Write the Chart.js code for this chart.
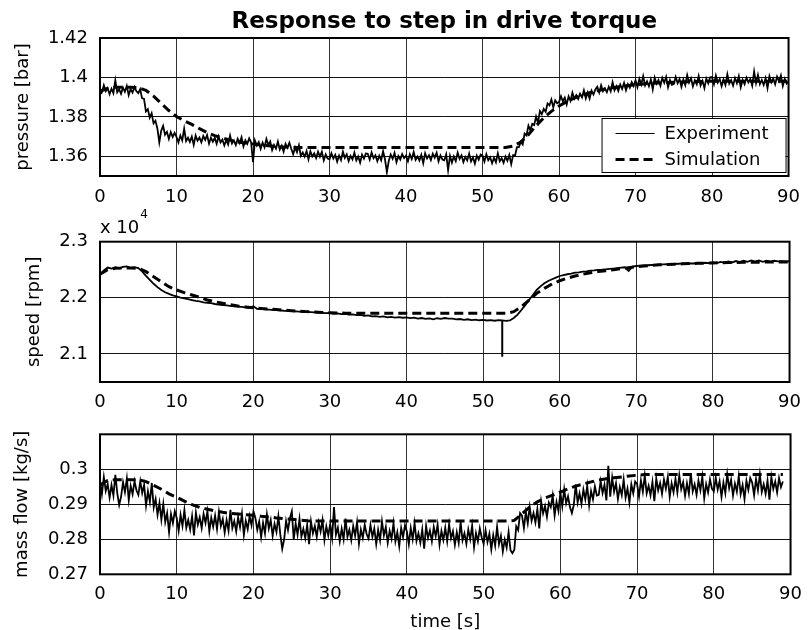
<!DOCTYPE html>
<html>
<head>
<meta charset="utf-8">
<title>Response to step in drive torque</title>
<script src="https://cdn.jsdelivr.net/npm/chart.js@4.4.0/dist/chart.umd.min.js"></script>
<style>
    html, body { margin: 0; padding: 0; background: #fff; overflow: hidden; }
    #wrap { position: relative; width: 811px; height: 630px; }
    canvas { position: absolute; left: 0; }
</style>
</head>
<body>
<div id="wrap">
    <canvas id="pressureChart" width="811" height="215" style="top:0px"></canvas>
    <canvas id="speedChart" width="811" height="225" style="top:195px"></canvas>
    <canvas id="flowChart" width="811" height="233" style="top:400px"></canvas>
</div>
<script>
'use strict'

// sample periods [s]: noisy signals every quarter second, speed every half, simulation every second
var pressureStep = 0.25;
var speedStep = 0.5;
var flowStep = 0.25;
var simStep = 1;

var timeTicks = [0, 10, 20, 30, 40, 50, 60, 70, 80, 90];

// pressure [bar]
var pressureTicks = [1.36, 1.38, 1.4, 1.42];
var pressureTickLabels = ['1.36', '1.38', '1.4', '1.42'];
var pressureExp = [
    1.3915, 1.3923, 1.3960, 1.3930, 1.3945, 1.3915, 1.3943, 1.3920, 1.3985, 1.3925, 1.3940, 1.3917, 1.3949, 1.3927, 1.3957, 1.3910, 1.3941, 1.3923, 1.3951, 1.3931,
    1.3920, 1.3940, 1.3894, 1.3892, 1.3828, 1.3839, 1.3796, 1.3818, 1.3767, 1.3780, 1.3741, 1.3670, 1.3729, 1.3754, 1.3709, 1.3724, 1.3688, 1.3723, 1.3698, 1.3719,
    1.3698, 1.3670, 1.3705, 1.3681, 1.3740, 1.3677, 1.3694, 1.3673, 1.3700, 1.3658, 1.3705, 1.3679, 1.3695, 1.3671, 1.3703, 1.3683, 1.3708, 1.3664, 1.3694, 1.3674,
    1.3693, 1.3663, 1.3700, 1.3670, 1.3685, 1.3655, 1.3683, 1.3660, 1.3705, 1.3665, 1.3680, 1.3657, 1.3689, 1.3667, 1.3697, 1.3650, 1.3681, 1.3663, 1.3691, 1.3671,
    1.3570, 1.3680, 1.3654, 1.3672, 1.3638, 1.3669, 1.3646, 1.3688, 1.3657, 1.3675, 1.3631, 1.3657, 1.3639, 1.3674, 1.3634, 1.3654, 1.3623, 1.3663, 1.3643, 1.3669,
    1.3638, 1.3610, 1.3645, 1.3621, 1.3656, 1.3602, 1.3619, 1.3598, 1.3627, 1.3585, 1.3625, 1.3599, 1.3615, 1.3591, 1.3623, 1.3598, 1.3623, 1.3579, 1.3609, 1.3589,
    1.3585, 1.3615, 1.3589, 1.3607, 1.3573, 1.3604, 1.3581, 1.3623, 1.3592, 1.3610, 1.3576, 1.3602, 1.3584, 1.3619, 1.3579, 1.3599, 1.3568, 1.3608, 1.3588, 1.3614,
    1.3613, 1.3583, 1.3620, 1.3590, 1.3605, 1.3575, 1.3603, 1.3580, 1.3625, 1.3585, 1.3520, 1.3577, 1.3609, 1.3587, 1.3617, 1.3570, 1.3601, 1.3583, 1.3611, 1.3591,
    1.3603, 1.3575, 1.3610, 1.3586, 1.3621, 1.3582, 1.3599, 1.3578, 1.3607, 1.3565, 1.3615, 1.3589, 1.3605, 1.3581, 1.3613, 1.3593, 1.3618, 1.3574, 1.3604, 1.3584,
    1.3580, 1.3610, 1.3530, 1.3602, 1.3568, 1.3599, 1.3576, 1.3618, 1.3587, 1.3605, 1.3571, 1.3597, 1.3579, 1.3614, 1.3574, 1.3594, 1.3563, 1.3603, 1.3583, 1.3609,
    1.3603, 1.3573, 1.3610, 1.3580, 1.3595, 1.3565, 1.3593, 1.3570, 1.3615, 1.3575, 1.3590, 1.3567, 1.3599, 1.3577, 1.3607, 1.3560, 1.3606, 1.3603, 1.3646, 1.3646,
    1.3673, 1.3660, 1.3715, 1.3706, 1.3756, 1.3732, 1.3764, 1.3758, 1.3802, 1.3770, 1.3830, 1.3814, 1.3840, 1.3826, 1.3868, 1.3858, 1.3888, 1.3849, 1.3884, 1.3869,
    1.3875, 1.3905, 1.3879, 1.3897, 1.3863, 1.3904, 1.3881, 1.3923, 1.3892, 1.3910, 1.3891, 1.3917, 1.3899, 1.3934, 1.3894, 1.3924, 1.3893, 1.3933, 1.3913, 1.3939,
    1.3953, 1.3923, 1.3960, 1.3930, 1.3945, 1.3925, 1.3953, 1.3930, 1.3975, 1.3935, 1.3955, 1.3932, 1.3964, 1.3942, 1.3972, 1.3935, 1.3966, 1.3948, 1.3976, 1.3956,
    1.3985, 1.3951, 1.3993, 1.3964, 1.4006, 1.3959, 1.3980, 1.3955, 1.3989, 1.3939, 1.3999, 1.3968, 1.3987, 1.3958, 1.3997, 1.3973, 1.4003, 1.3950, 1.3986, 1.3962,
    1.3966, 1.4002, 1.3971, 1.3992, 1.3952, 1.3989, 1.3961, 1.4012, 1.3974, 1.3996, 1.3955, 1.3986, 1.3965, 1.4007, 1.3959, 1.3983, 1.3946, 1.3994, 1.3970, 1.4001,
    1.4002, 1.3966, 1.4010, 1.3974, 1.3992, 1.3956, 1.3990, 1.3962, 1.4016, 1.3968, 1.3986, 1.3958, 1.3997, 1.3970, 1.4006, 1.3950, 1.3987, 1.3966, 1.3999, 1.3975,
    1.3992, 1.3958, 1.4030, 1.3971, 1.4013, 1.3966, 1.3987, 1.3962, 1.3996, 1.3946, 1.4006, 1.3975, 1.3994, 1.3965, 1.4004, 1.3980, 1.4010, 1.3957, 1.3993, 1.3969,
    1.3980
];
var pressureSim = [
    1.3930, 1.3945, 1.3950, 1.3950, 1.3950, 1.3948, 1.3935, 1.3905, 1.3868, 1.3832,
    1.3802, 1.3780, 1.3762, 1.3740, 1.3720, 1.3705, 1.3693, 1.3682, 1.3673, 1.3667,
    1.3662, 1.3657, 1.3653, 1.3650, 1.3647, 1.3645, 1.3645, 1.3645, 1.3645, 1.3645,
    1.3645, 1.3645, 1.3645, 1.3645, 1.3645, 1.3645, 1.3645, 1.3645, 1.3645, 1.3645,
    1.3645, 1.3645, 1.3645, 1.3645, 1.3645, 1.3645, 1.3645, 1.3645, 1.3645, 1.3645,
    1.3645, 1.3645, 1.3645, 1.3645, 1.3652, 1.3672, 1.3710, 1.3755, 1.3795, 1.3828,
    1.3855, 1.3877, 1.3895, 1.3910, 1.3922, 1.3932, 1.3941, 1.3948, 1.3954, 1.3959,
    1.3963, 1.3967, 1.3970, 1.3972, 1.3974, 1.3976, 1.3977, 1.3978, 1.3979, 1.3980,
    1.3980, 1.3980, 1.3980, 1.3980, 1.3980, 1.3980, 1.3980, 1.3980, 1.3980, 1.3980,
    1.3980
];

// speed [rpm], axis labelled in units of 10^4
var speedTicks = [21000, 22000, 23000];
var speedTickLabels = ['2.1', '2.2', '2.3'];
var speedExp = [
    22420, 22490, 22540, 22520, 22545, 22525, 22550, 22560, 22535, 22545,
    22530, 22470, 22390, 22320, 22250, 22190, 22140, 22100, 22070, 22045,
    22025, 22005, 21990, 21975, 21960, 21945, 21935, 21920, 21912, 21905,
    21890, 21880, 21872, 21865, 21858, 21850, 21842, 21838, 21830, 21822,
    21850, 21805, 21800, 21795, 21790, 21785, 21780, 21778, 21770, 21768,
    21765, 21760, 21755, 21752, 21748, 21745, 21740, 21735, 21732, 21728,
    21730, 21715, 21722, 21708, 21716, 21700, 21706, 21692, 21698, 21680,
    21688, 21668, 21674, 21660, 21668, 21652, 21662, 21648, 21656, 21645,
    21652, 21638, 21646, 21630, 21640, 21625, 21632, 21618, 21636, 21625,
    21640, 21628, 21630, 21615, 21622, 21608, 21618, 21602, 21612, 21600,
    21608, 21596, 21604, 21592, 21602, 21598, 21590, 21596, 21640, 21700,
    21783, 21870, 21961, 22050, 22140, 22205, 22258, 22300, 22330, 22360,
    22389, 22405, 22420, 22432, 22448, 22455, 22468, 22472, 22484, 22490,
    22498, 22502, 22508, 22515, 22522, 22530, 22537, 22545, 22480, 22555,
    22567, 22572, 22578, 22580, 22585, 22588, 22592, 22595, 22598, 22600,
    22603, 22607, 22610, 22608, 22615, 22612, 22620, 22615, 22625, 22618,
    22630, 22620, 22640, 22625, 22648, 22630, 22655, 22635, 22660, 22640,
    22665, 22645, 22668, 22642, 22662, 22645, 22660, 22648, 22655, 22650,
    22652
];
// single dropout in the speed measurement
var speedGlitchTime = [52.5, 52.5];
var speedGlitch = [21598, 20950];
var speedSim = [
    22420, 22500, 22525, 22530, 22530, 22528, 22466, 22377, 22288, 22199,
    22140, 22093, 22051, 22010, 21961, 21931, 21902, 21876, 21854, 21838,
    21824, 21812, 21801, 21790, 21780, 21771, 21762, 21754, 21746, 21740,
    21735, 21730, 21727, 21725, 21725, 21725, 21725, 21725, 21725, 21725,
    21725, 21725, 21725, 21725, 21725, 21725, 21725, 21725, 21725, 21725,
    21725, 21725, 21725, 21725, 21753, 21842, 21961, 22080, 22169, 22246,
    22305, 22350, 22389, 22420, 22448, 22468, 22484, 22502, 22519, 22537,
    22555, 22568, 22579, 22588, 22594, 22600, 22605, 22610, 22614, 22618,
    22622, 22625, 22628, 22630, 22632, 22634, 22636, 22638, 22640, 22640,
    22640
];

// mass flow [kg/s]
var flowTicks = [0.27, 0.28, 0.29, 0.3];
var flowTickLabels = ['0.27', '0.28', '0.29', '0.3'];
var flowExp = [
    0.2968, 0.2929, 0.2978, 0.2938, 0.2958, 0.2919, 0.2955, 0.2925, 0.2984, 0.2932, 0.2898, 0.2922, 0.2963, 0.2935, 0.2974, 0.2912, 0.2953, 0.2929, 0.2966, 0.2940,
    0.2927, 0.2966, 0.2932, 0.2956, 0.2896, 0.2937, 0.2907, 0.2961, 0.2891, 0.2915, 0.2870, 0.2904, 0.2856, 0.2901, 0.2849, 0.2875, 0.2820, 0.2872, 0.2846, 0.2880,
    0.2860, 0.2824, 0.2870, 0.2838, 0.2884, 0.2833, 0.2855, 0.2828, 0.2866, 0.2811, 0.2876, 0.2842, 0.2863, 0.2832, 0.2873, 0.2847, 0.2880, 0.2823, 0.2862, 0.2836,
    0.2868, 0.2829, 0.2878, 0.2838, 0.2858, 0.2819, 0.2855, 0.2825, 0.2884, 0.2832, 0.2852, 0.2822, 0.2863, 0.2835, 0.2874, 0.2812, 0.2853, 0.2829, 0.2866, 0.2840,
    0.2880, 0.2861, 0.2827, 0.2851, 0.2806, 0.2847, 0.2817, 0.2871, 0.2831, 0.2855, 0.2810, 0.2844, 0.2821, 0.2866, 0.2814, 0.2773, 0.2800, 0.2852, 0.2826, 0.2860,
    0.2880, 0.2799, 0.2845, 0.2813, 0.2859, 0.2808, 0.2830, 0.2803, 0.2841, 0.2786, 0.2851, 0.2817, 0.2838, 0.2807, 0.2848, 0.2822, 0.2855, 0.2798, 0.2837, 0.2811,
    0.2843, 0.2804, 0.2892, 0.2813, 0.2833, 0.2794, 0.2830, 0.2800, 0.2859, 0.2807, 0.2827, 0.2797, 0.2838, 0.2810, 0.2849, 0.2787, 0.2828, 0.2804, 0.2841, 0.2815,
    0.2802, 0.2841, 0.2807, 0.2831, 0.2786, 0.2827, 0.2797, 0.2851, 0.2811, 0.2835, 0.2790, 0.2824, 0.2801, 0.2846, 0.2794, 0.2820, 0.2780, 0.2832, 0.2806, 0.2840,
    0.2822, 0.2786, 0.2832, 0.2800, 0.2846, 0.2795, 0.2817, 0.2790, 0.2828, 0.2773, 0.2838, 0.2804, 0.2825, 0.2794, 0.2835, 0.2809, 0.2842, 0.2785, 0.2824, 0.2798,
    0.2833, 0.2794, 0.2843, 0.2803, 0.2823, 0.2784, 0.2820, 0.2790, 0.2849, 0.2797, 0.2817, 0.2787, 0.2828, 0.2800, 0.2839, 0.2777, 0.2818, 0.2794, 0.2831, 0.2805,
    0.2787, 0.2826, 0.2792, 0.2816, 0.2771, 0.2812, 0.2782, 0.2836, 0.2786, 0.2810, 0.2765, 0.2799, 0.2776, 0.2821, 0.2769, 0.2760, 0.2770, 0.2837, 0.2826, 0.2875,
    0.2868, 0.2832, 0.2878, 0.2846, 0.2892, 0.2853, 0.2875, 0.2848, 0.2886, 0.2831, 0.2908, 0.2874, 0.2895, 0.2864, 0.2905, 0.2892, 0.2925, 0.2868, 0.2907, 0.2881,
    0.2933, 0.2894, 0.2943, 0.2903, 0.2923, 0.2892, 0.2875, 0.2898, 0.2957, 0.2905, 0.2931, 0.2901, 0.2942, 0.2914, 0.2953, 0.2897, 0.2938, 0.2914, 0.2951, 0.2925,
    0.2927, 0.2966, 0.2932, 0.2956, 0.2911, 0.3010, 0.2922, 0.2976, 0.2936, 0.2960, 0.2915, 0.2949, 0.2926, 0.2971, 0.2919, 0.2945, 0.2905, 0.2957, 0.2931, 0.2965,
    0.2958, 0.2922, 0.2968, 0.2936, 0.2982, 0.2931, 0.2953, 0.2926, 0.2964, 0.2909, 0.2974, 0.2940, 0.2961, 0.2930, 0.2971, 0.2945, 0.2978, 0.2921, 0.2960, 0.2934,
    0.2973, 0.2934, 0.2983, 0.2943, 0.2963, 0.2924, 0.2960, 0.2930, 0.2989, 0.2937, 0.2957, 0.2927, 0.2968, 0.2940, 0.2979, 0.2917, 0.2958, 0.2934, 0.2971, 0.2945,
    0.2937, 0.2976, 0.2942, 0.2966, 0.2921, 0.2962, 0.2932, 0.2986, 0.2946, 0.2970, 0.2925, 0.2959, 0.2936, 0.2981, 0.2929, 0.2955, 0.2915, 0.2967, 0.2941, 0.2975,
    0.2962, 0.2926, 0.2972, 0.2940, 0.2986, 0.2935, 0.2957, 0.2930, 0.2968, 0.2913, 0.2978, 0.2944, 0.2965, 0.2934, 0.2975, 0.2949, 0.2965
];
var flowSim = [
    0.2955, 0.2968, 0.2970, 0.2970, 0.2970, 0.2970, 0.2965, 0.2954, 0.2943, 0.2930,
    0.2920, 0.2909, 0.2899, 0.2891, 0.2886, 0.2881, 0.2877, 0.2874, 0.2872, 0.2870,
    0.2869, 0.2866, 0.2864, 0.2861, 0.2859, 0.2857, 0.2855, 0.2853, 0.2852, 0.2852,
    0.2852, 0.2852, 0.2852, 0.2852, 0.2852, 0.2852, 0.2852, 0.2852, 0.2852, 0.2852,
    0.2852, 0.2852, 0.2852, 0.2852, 0.2852, 0.2852, 0.2852, 0.2852, 0.2852, 0.2852,
    0.2852, 0.2852, 0.2852, 0.2852, 0.2854, 0.2873, 0.2892, 0.2907, 0.2918, 0.2926,
    0.2935, 0.2944, 0.2952, 0.2958, 0.2964, 0.2969, 0.2973, 0.2976, 0.2978, 0.2981,
    0.2983, 0.2985, 0.2985, 0.2985, 0.2985, 0.2985, 0.2985, 0.2985, 0.2985, 0.2985,
    0.2985, 0.2985, 0.2985, 0.2985, 0.2985, 0.2985, 0.2985, 0.2985, 0.2985, 0.2985
];

var FONT = 'DejaVu Sans';

Chart.defaults.font.family = FONT;
Chart.defaults.font.size = 18;
Chart.defaults.color = '#000';

function toPoints(values, step) {
    return values.map(function (v, i) { return { x: i * step, y: v }; });
}

function pairPoints(xs, ys) {
    return xs.map(function (x, i) { return { x: x, y: ys[i] }; });
}

// black box around the plot area
var framePlugin = {
    id: 'frame',
    afterDatasetsDraw: function (chart) {
        var a = chart.chartArea;
        var ctx = chart.ctx;
        ctx.save();
        ctx.strokeStyle = '#000';
        ctx.lineWidth = 2;
        ctx.strokeRect(a.left, a.top, a.right - a.left, a.bottom - a.top);
        ctx.restore();
    }
};

// boxed legend in the lower right corner of the pressure plot
var boxLegendPlugin = {
    id: 'boxLegend',
    afterDraw: function (chart) {
        var a = chart.chartArea;
        var ctx = chart.ctx;
        var w = 184, h = 54;
        var x = a.right - 3 - w;
        var y = a.bottom - 4 - h;
        ctx.save();
        ctx.fillStyle = '#fff';
        ctx.fillRect(x, y, w, h);
        ctx.strokeStyle = '#000';
        ctx.lineWidth = 1;
        ctx.strokeRect(x + 0.5, y + 0.5, w, h);
        chart.data.datasets.forEach(function (ds, i) {
            if (!ds.label) return;
            var cy = y + 15.5 + i * 26;
            ctx.beginPath();
            ctx.setLineDash(ds.borderDash || []);
            ctx.lineWidth = ds.borderDash ? ds.borderWidth : 1;
            ctx.moveTo(x + 14, cy);
            ctx.lineTo(x + 53, cy);
            ctx.stroke();
            ctx.setLineDash([]);
            ctx.fillStyle = '#000';
            ctx.font = '18px "' + FONT + '"';
            ctx.textBaseline = 'middle';
            ctx.fillText(ds.label, x + 63, cy + 1);
        });
        ctx.restore();
    }
};

// "x 10^4" multiplier above the speed axis
var exponentPlugin = {
    id: 'exponent',
    afterDraw: function (chart) {
        var a = chart.chartArea;
        var ctx = chart.ctx;
        ctx.save();
        ctx.fillStyle = '#000';
        ctx.textBaseline = 'alphabetic';
        ctx.font = '18px "' + FONT + '"';
        ctx.fillText('x 10', a.left, a.top - 9);
        var w = ctx.measureText('x 10').width;
        ctx.font = '12px "' + FONT + '"';
        ctx.fillText('4', a.left + w + 1, a.top - 23.5);
        ctx.restore();
    }
};

function makeChart(id, cfg) {
    return new Chart(document.getElementById(id).getContext('2d'), {
        type: 'line',
        data: { datasets: cfg.datasets },
        plugins: [framePlugin].concat(cfg.plugins || []),
        options: {
            responsive: false,
            animation: false,
            devicePixelRatio: 1,
            parsing: false,
            layout: { padding: { top: cfg.padTop, right: 12, left: 0, bottom: 0 } },
            plugins: {
                legend: { display: false },
                tooltip: { enabled: false },
                title: cfg.title || { display: false }
            },
            scales: {
                x: {
                    type: 'linear',
                    min: 0,
                    max: 90,
                    afterBuildTicks: function (scale) {
                        scale.ticks = timeTicks.map(function (v) { return { value: v }; });
                    },
                    afterFit: function (scale) { scale.height = cfg.xHeight; },
                    ticks: { padding: cfg.xPad, autoSkip: false, maxRotation: 0 },
                    grid: { color: '#333', lineWidth: 1, drawTicks: false },
                    border: { display: false },
                    title: cfg.xTitle || { display: false }
                },
                y: {
                    type: 'linear',
                    min: cfg.yMin,
                    max: cfg.yMax,
                    afterBuildTicks: function (scale) {
                        scale.ticks = cfg.yTicks.map(function (v) { return { value: v }; });
                    },
                    afterFit: function (scale) { scale.width = 100; },
                    ticks: {
                        padding: 12,
                        callback: function (value, index) { return cfg.yTickLabels[index]; }
                    },
                    grid: { color: '#111', lineWidth: 1, drawTicks: false },
                    border: { display: false },
                    title: {
                        display: true,
                        text: cfg.yTitle,
                        padding: { top: cfg.yTitlePad, bottom: 0 }
                    }
                }
            }
        }
    });
}

function experiment(label, values, step, width) {
    return {
        label: label,
        data: toPoints(values, step),
        borderColor: '#000',
        borderWidth: width,
        pointRadius: 0,
        tension: 0,
        order: 1
    };
}

function simulation(label, values) {
    return {
        label: label,
        data: toPoints(values, simStep),
        borderColor: '#000',
        borderWidth: 3,
        borderDash: [9, 5],
        pointRadius: 0,
        tension: 0,
        order: 0
    };
}

makeChart('pressureChart', {
    datasets: [
        experiment('Experiment', pressureExp, pressureStep, 1.8),
        simulation('Simulation', pressureSim)
    ],
    plugins: [boxLegendPlugin],
    padTop: 0,
    title: {
        display: true,
        text: 'Response to step in drive torque',
        fullSize: false,
        color: '#000',
        font: { family: FONT, size: 23, weight: 'bold' },
        padding: { top: 8, bottom: 2.4 }
    },
    xHeight: 39,
    xPad: 11,
    yMin: 1.35,
    yMax: 1.42,
    yTicks: pressureTicks,
    yTickLabels: pressureTickLabels,
    yTitle: 'pressure [bar]',
    yTitlePad: 12.6
});

makeChart('speedChart', {
    datasets: [
        experiment('', speedExp, speedStep, 1.8),
        simulation('', speedSim),
        {
            data: pairPoints(speedGlitchTime, speedGlitch),
            borderColor: '#000',
            borderWidth: 2,
            pointRadius: 0,
            order: 1
        }
    ],
    plugins: [exponentPlugin],
    padTop: 46.7,
    xHeight: 38,
    xPad: 10,
    yMin: 20500,
    yMax: 23000,
    yTicks: speedTicks,
    yTickLabels: speedTickLabels,
    yTitle: 'speed [rpm]',
    yTitlePad: 24
});

makeChart('flowChart', {
    datasets: [
        experiment('', flowExp, flowStep, 1.8),
        simulation('', flowSim)
    ],
    padTop: 34.3,
    xHeight: 58.7,
    xPad: 9,
    xTitle: { display: true, text: 'time [s]', padding: { top: 0, bottom: 0 } },
    yMin: 0.27,
    yMax: 0.31,
    yTicks: flowTicks,
    yTickLabels: flowTickLabels,
    yTitle: 'mass flow [kg/s]',
    yTitlePad: 11.7
});
</script>
</body>
</html>
